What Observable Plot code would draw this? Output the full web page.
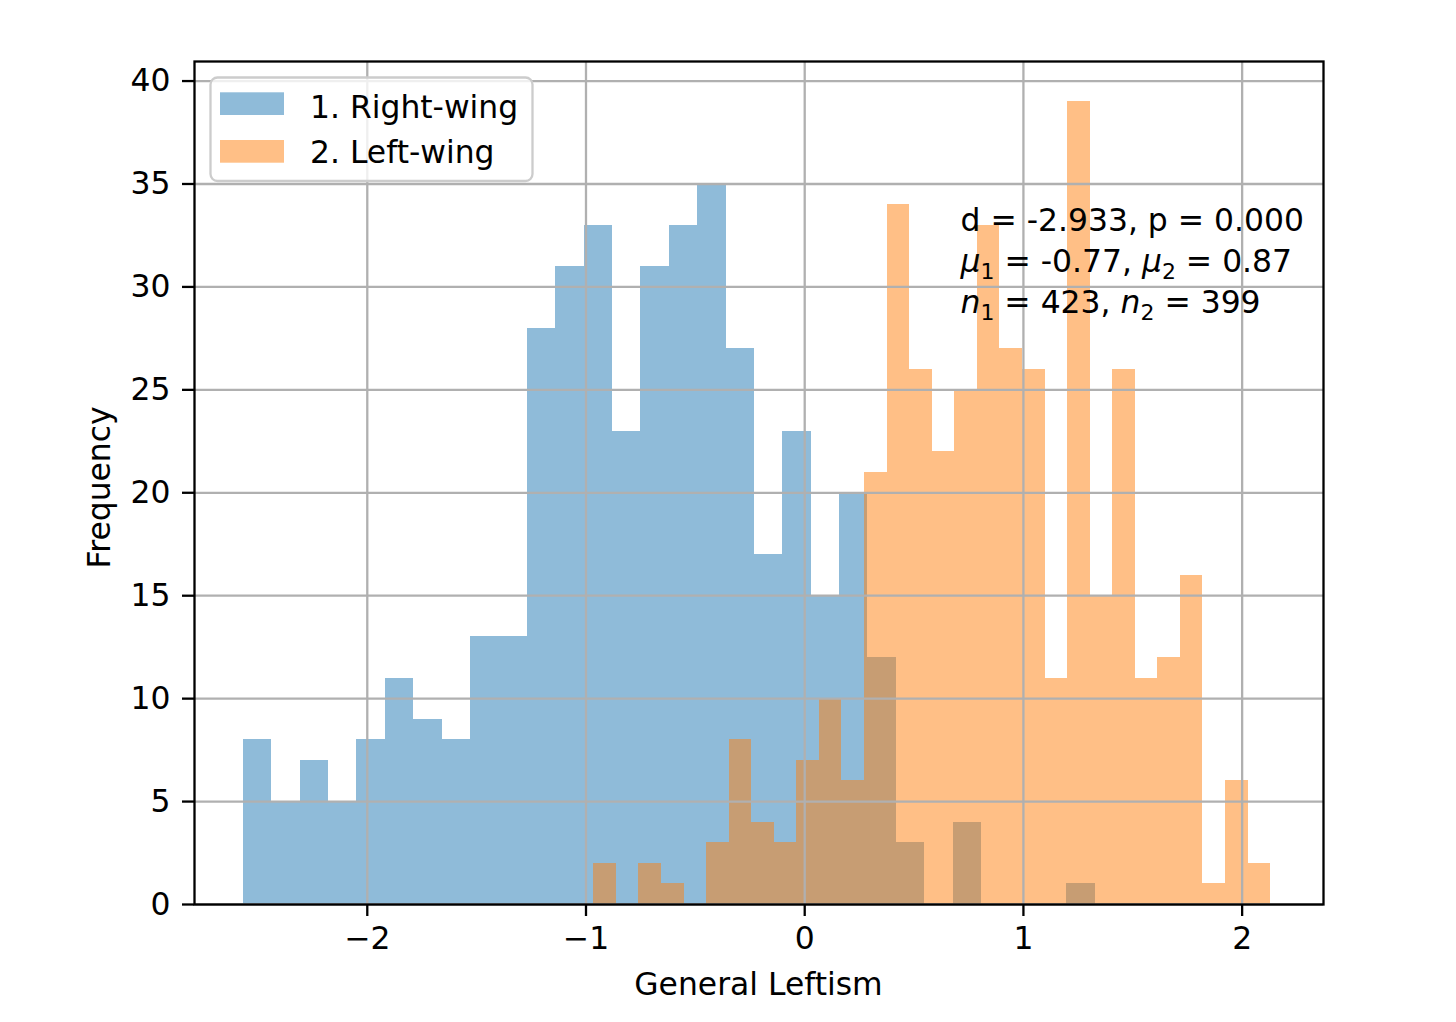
<!DOCTYPE html>
<html>
<head>
<meta charset="utf-8">
<script src="https://cdn.jsdelivr.net/npm/d3@7"></script>
<script src="https://cdn.jsdelivr.net/npm/@observablehq/plot@0.6"></script>
<style>
  html, body { margin: 0; padding: 0; background: #ffffff; }
  #chart svg { display: block; }
</style>
</head>
<body>
<div id="chart"></div>
<script>
// ---- data ----
const seriesNames = ["1. Right-wing", "2. Left-wing"];
const seriesColors = ["#1f77b4", "#ff7f0e"];
// histogram ranges (min, max of each sample) and counts in 30 equal bins
const rightRange = [-2.567, 1.328];
const leftRange = [-0.964, 2.130];
const rightCounts = [8, 5, 7, 5, 8, 11, 9, 8, 13, 13, 28, 31, 33, 23, 31, 33, 35, 27, 17, 23, 15, 20, 12, 3, 0, 4, 0, 0, 0, 1];
const leftCounts = [2, 0, 2, 1, 0, 3, 8, 4, 3, 7, 10, 6, 21, 34, 26, 22, 25, 33, 27, 26, 11, 39, 15, 26, 11, 12, 16, 1, 6, 2];
const xTicks = [-2, -1, 0, 1, 2];
const yTicks = [0, 5, 10, 15, 20, 25, 30, 35, 40];
const xLabel = "General Leftism";
const yLabel = "Frequency";
const statLines = [
  [["d = -2.933, p = 0.000", ""]],
  [["μ", "i"], ["1", "s"], [" = -0.77, ", ""], ["μ", "i"], ["2", "s"], [" = 0.87", ""]],
  [["n", "i"], ["1", "s"], [" = 423, ", ""], ["n", "i"], ["2", "s"], [" = 399", ""]]
];

function toBins(range, counts, series) {
  const n = counts.length, w = (range[1] - range[0]) / n;
  return counts.map((c, i) => ({series, x1: range[0] + i * w, x2: range[0] + (i + 1) * w, count: c}));
}
const rightBins = toBins(rightRange, rightCounts, seriesNames[0]);
const leftBins = toBins(leftRange, leftCounts, seriesNames[1]);

const W = 1456, H = 1022;
const mL = 194, mR = 133, mT = 61, mB = 118;
const FS = 31.4;
const FONT = "DejaVu Sans";
const minus = d => d < 0 ? "\u2212" + Math.abs(d) : String(d);

const plot = Plot.plot({
  width: W, height: H,
  marginLeft: mL, marginRight: mR, marginTop: mT, marginBottom: mB,
  style: {fontFamily: FONT, fontSize: FS + "px", color: "#000", background: "#fff"},
  x: {domain: [-2.79, 2.372]},
  y: {domain: [0, 40.95]},
  marks: [
    Plot.rectY(rightBins, {x1: "x1", x2: "x2", y: "count", fill: seriesColors[0], fillOpacity: 0.5, inset: 0, shapeRendering: "crispEdges"}),
    Plot.rectY(leftBins, {x1: "x1", x2: "x2", y: "count", fill: seriesColors[1], fillOpacity: 0.5, inset: 0, shapeRendering: "crispEdges"}),
    Plot.gridX(xTicks, {stroke: "#b0b0b0", strokeOpacity: 1, strokeWidth: 2.3}),
    Plot.gridY(yTicks, {stroke: "#b0b0b0", strokeOpacity: 1, strokeWidth: 2.3}),
    Plot.axisX(xTicks, {tickSize: 12, tickPadding: 10, tickFormat: minus, strokeWidth: 2.3, label: null, fontSize: FS}),
    Plot.axisY(yTicks, {tickSize: 12, tickPadding: 12, strokeWidth: 2.3, label: null, fontSize: FS}),
    Plot.frame({stroke: "#000", strokeWidth: 2.3})
  ]
});

const svg = d3.select(plot);

// axis titles
svg.append("text")
  .attr("x", mL + (W - mL - mR) / 2).attr("y", 995)
  .attr("text-anchor", "middle").attr("font-family", FONT).attr("font-size", FS).attr("fill", "#000")
  .text(xLabel);
svg.append("text")
  .attr("transform", `translate(110,${mT + (H - mT - mB) / 2 + 5}) rotate(-90)`)
  .attr("text-anchor", "middle").attr("font-family", FONT).attr("font-size", FS).attr("fill", "#000")
  .text(yLabel);

// legend (upper left)
const lg = svg.append("g");
lg.append("rect")
  .attr("x", 210.5).attr("y", 77.5).attr("width", 322).attr("height", 103.5)
  .attr("rx", 7).attr("ry", 7)
  .attr("fill", "#fff").attr("fill-opacity", 0.8)
  .attr("stroke", "#cccccc").attr("stroke-width", 2.3);
seriesNames.forEach((name, i) => {
  const yTop = 92.3 + i * 47.7;
  lg.append("rect").attr("x", 220).attr("y", yTop).attr("width", 64).attr("height", 22.7)
    .attr("fill", seriesColors[i]).attr("fill-opacity", 0.5);
  lg.append("text").attr("x", 310).attr("y", 117.5 + i * 45)
    .attr("text-anchor", "start")
    .attr("font-family", FONT).attr("font-size", FS).attr("fill", "#000").text(name);
});

// statistics annotation
const baselines = [230.5, 271.5, 312.5];
statLines.forEach((parts, li) => {
  const t = svg.append("text").attr("x", 960.5).attr("y", baselines[li])
    .attr("text-anchor", "start")
    .attr("font-family", FONT).attr("font-size", FS).attr("fill", "#000");
  let inSub = false;
  parts.forEach(([s, kind]) => {
    const ts = t.append("tspan").text(s).attr("style", "white-space:pre");
    if (kind === "i") ts.attr("font-style", "oblique");
    if (kind === "s") {
      ts.attr("font-size", FS * 0.7).attr("dy", 7);
      inSub = true;
    } else {
      ts.attr("dy", inSub ? -7 : 0);
      inSub = false;
    }
  });
});

document.getElementById("chart").appendChild(plot);
</script>
</body>
</html>
